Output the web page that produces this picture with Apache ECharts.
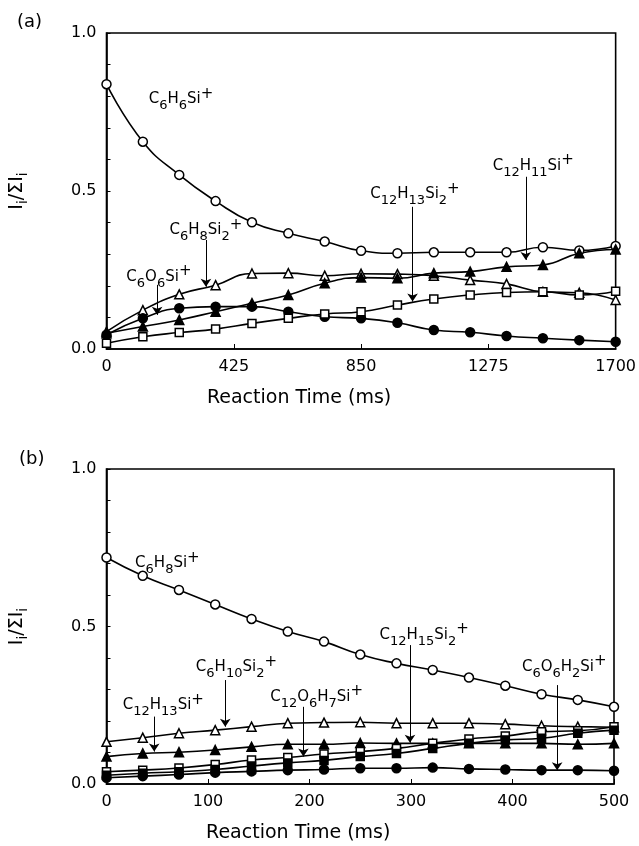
<!DOCTYPE html>
<html>
<head>
<meta charset="utf-8">
<script src="https://cdn.jsdelivr.net/npm/echarts@6/dist/echarts.min.js"></script>
<style>
  html, body { margin: 0; padding: 0; background: #fff; }
  #chart { width: 639px; height: 846px; }
</style>
</head>
<body>
<div id="chart"></div>
<script>
// panel (a) data
const timesA = [0, 121.4, 242.9, 364.3, 485.7, 607.1, 728.6, 850, 971.4, 1092.9, 1214.3, 1335.7, 1457.1, 1578.6, 1700];
const c6h6si = [0.838, 0.656, 0.551, 0.468, 0.401, 0.366, 0.340, 0.311, 0.303, 0.306, 0.306, 0.306, 0.322, 0.312, 0.326];
const c6h8si2 = [0.055, 0.123, 0.173, 0.202, 0.239, 0.240, 0.232, 0.238, 0.237, 0.232, 0.218, 0.206, 0.181, 0.178, 0.155];
const c12h11si = [0.050, 0.071, 0.092, 0.118, 0.145, 0.171, 0.208, 0.226, 0.224, 0.240, 0.245, 0.260, 0.266, 0.303, 0.315];
const c6o6si = [0.045, 0.097, 0.129, 0.134, 0.134, 0.118, 0.102, 0.097, 0.083, 0.060, 0.053, 0.041, 0.034, 0.028, 0.023];
const c12h13si2 = [0.018, 0.039, 0.052, 0.063, 0.081, 0.097, 0.111, 0.118, 0.139, 0.158, 0.171, 0.179, 0.181, 0.171, 0.183];

// panel (b) data
const timesB = [0, 35.7, 71.4, 107.1, 142.9, 178.6, 214.3, 250, 285.7, 321.4, 357.1, 392.9, 428.6, 464.3, 500];
const c6h8si = [0.719, 0.661, 0.616, 0.570, 0.524, 0.484, 0.452, 0.411, 0.383, 0.362, 0.338, 0.312, 0.285, 0.267, 0.245];
const c6h10si2 = [0.134, 0.147, 0.161, 0.171, 0.182, 0.193, 0.195, 0.196, 0.193, 0.193, 0.193, 0.190, 0.185, 0.182, 0.180];
const c12h13si = [0.087, 0.097, 0.101, 0.108, 0.118, 0.126, 0.126, 0.130, 0.129, 0.129, 0.129, 0.129, 0.129, 0.126, 0.129];
const c6o6h2si = [0.020, 0.025, 0.030, 0.036, 0.040, 0.044, 0.046, 0.050, 0.050, 0.052, 0.048, 0.046, 0.044, 0.044, 0.042];
const c12o6h7si = [0.039, 0.044, 0.051, 0.062, 0.076, 0.084, 0.095, 0.103, 0.113, 0.129, 0.143, 0.152, 0.166, 0.169, 0.182];
const c12h15si2 = [0.028, 0.034, 0.039, 0.046, 0.057, 0.067, 0.075, 0.087, 0.097, 0.113, 0.129, 0.140, 0.145, 0.161, 0.171];

const ticksA = [0, 425, 850, 1275, 1700];
const ticksB = [0, 100, 200, 300, 400, 500];

const FONT = 'DejaVu Sans';

// "C_6H_6Si^+" -> rich text with sub/superscripts
const chem = (f) => {
  return f.split(/(_\d+|\^\+)/).filter(Boolean).map(p => {
    if (p[0] === '_') return '{s|' + p.slice(1) + '}';
    if (p[0] === '^') return '{p|' + p.slice(1) + '}';
    return '{n|' + p + '}';
  }).join('');
};

const rich = {
  n: { fontSize: 15, lineHeight: 26, verticalAlign: 'middle', color: '#000', fontFamily: FONT },
  s: { fontSize: 13, verticalAlign: 'bottom', color: '#000', fontFamily: FONT },
  p: { fontSize: 15, verticalAlign: 'top', color: '#000', fontFamily: FONT }
};

const nameRich = {
  n: { fontSize: 19, lineHeight: 26, verticalAlign: 'middle', color: '#000', fontFamily: FONT },
  s: { fontSize: 14, verticalAlign: 'bottom', color: '#000', fontFamily: FONT }
};

const pairs = (xs, ys) => xs.map((x, i) => [x, ys[i]]);

const makeSeries = (name, xs, ys, shape, filled, axis, note) => {
  const s = {
    name: name,
    type: 'line',
    xAxisIndex: axis,
    yAxisIndex: axis,
    data: pairs(xs, ys),
    smooth: 0.5,
    clip: false,
    symbol: shape,
    symbolSize: shape === 'rect' ? 8 : 9,
    showAllSymbol: true,
    lineStyle: { color: '#000', width: 1.6 },
    itemStyle: { color: filled ? '#000' : '#fff', borderColor: '#000', borderWidth: 1.5 },
    animation: false,
    silent: true
  };
  if (note) {
    s.markPoint = {
      symbol: 'circle',
      symbolSize: 0,
      silent: true,
      label: { show: true, position: 'inside', formatter: chem(note.text), rich: rich },
      data: [{ coord: note.at }]
    };
    if (note.arrow) {
      s.markLine = {
        silent: true,
        symbol: ['none', 'arrow'],
        symbolSize: 8,
        label: { show: false },
        lineStyle: { color: '#000', width: 1, type: 'solid' },
        data: [[{ coord: note.arrow[0] }, { coord: note.arrow[1] }]]
      };
    }
  }
  return s;
};

const makeX = (idx, max, interval, ticks) => ({
  type: 'value',
  gridIndex: idx,
  min: 0,
  max: max,
  interval: interval,
  name: 'Reaction Time (ms)',
  nameLocation: 'middle',
  nameGap: 40,
  nameTextStyle: { fontSize: 19, color: '#000', fontFamily: FONT, padding: [0, 124, 0, 0] },
  axisLine: { show: true, lineStyle: { color: '#000', width: 1.6 } },
  axisTick: { show: true, inside: true, length: 5, lineStyle: { color: '#000' } },
  axisLabel: { fontSize: 16, color: '#000', fontFamily: FONT, margin: 10,
    formatter: (v) => ticks.indexOf(v) >= 0 ? String(v) : '' },
  splitLine: { show: false }
});

const makeY = (idx) => ({
  type: 'value',
  gridIndex: idx,
  min: 0,
  max: 1,
  interval: 0.1,
  name: '{n|I}{s|i}{n|/ΣI}{s|i}',
  nameLocation: 'middle',
  nameGap: 76,
  nameTextStyle: { fontSize: 19, fontFamily: FONT, color: '#000', rich: nameRich },
  axisLine: { show: true, lineStyle: { color: '#000', width: 1.6 } },
  axisTick: { show: true, inside: true, length: 4, lineStyle: { color: '#000' } },
  axisLabel: { fontSize: 16, color: '#000', fontFamily: FONT, margin: 10,
    formatter: (v) => (Math.abs(v * 2 - Math.round(v * 2)) < 1e-6 ? v.toFixed(1) : '') },
  splitLine: { show: false }
});

const getOption = () => {
  return {
    backgroundColor: '#fff',
    title: [
      { text: '(a)', left: 12, top: 8, textStyle: { fontSize: 18, fontWeight: 'normal', color: '#000', fontFamily: FONT } },
      { text: '(b)', left: 14, top: 445, textStyle: { fontSize: 18, fontWeight: 'normal', color: '#000', fontFamily: FONT } }
    ],
    grid: [
      { left: 104, top: 33, width: 512, height: 316, show: true, borderColor: '#000', borderWidth: 1.6 },
      { left: 104, top: 469, width: 510, height: 315, show: true, borderColor: '#000', borderWidth: 1.6 }
    ],
    xAxis: [makeX(0, 1700, 425, ticksA), makeX(1, 500, 100, ticksB)],
    yAxis: [makeY(0), makeY(1)],
    series: [
      makeSeries('C6H6Si+', timesA, c6h6si, 'circle', false, 0,
        { text: 'C_6H_6Si^+', at: [249, 0.79] }),
      makeSeries('C6H8Si2+', timesA, c6h8si2, 'triangle', false, 0,
        { text: 'C_6H_8Si_2^+', at: [332, 0.375], arrow: [[332, 0.345], [332, 0.197]] }),
      makeSeries('C12H11Si+', timesA, c12h11si, 'triangle', true, 0,
        { text: 'C_12H_11Si^+', at: [1425, 0.58], arrow: [[1400, 0.545], [1400, 0.282]] }),
      makeSeries('C6O6Si+', timesA, c6o6si, 'circle', true, 0,
        { text: 'C_6O_6Si^+', at: [175, 0.229], arrow: [[169, 0.203], [169, 0.108]] }),
      makeSeries('C12H13Si2+', timesA, c12h13si2, 'rect', false, 0,
        { text: 'C_12H_13Si_2^+', at: [1030, 0.49], arrow: [[1022, 0.45], [1022, 0.15]] }),

      makeSeries('C6H8Si+', timesB, c6h8si, 'circle', false, 1,
        { text: 'C_6H_8Si^+', at: [60, 0.70] }),
      makeSeries('C6H10Si2+', timesB, c6h10si2, 'triangle', false, 1,
        { text: 'C_6H_10Si_2^+', at: [128, 0.37], arrow: [[117, 0.33], [117, 0.182]] }),
      makeSeries('C12H13Si+', timesB, c12h13si, 'triangle', true, 1,
        { text: 'C_12H_13Si^+', at: [56, 0.249], arrow: [[47, 0.214], [47, 0.103]] }),
      makeSeries('C6O6H2Si+', timesB, c6o6h2si, 'circle', true, 1,
        { text: 'C_6O_6H_2Si^+', at: [451, 0.372], arrow: [[444, 0.314], [444, 0.044]] }),
      makeSeries('C12O6H7Si+', timesB, c12o6h7si, 'rect', false, 1,
        { text: 'C_12O_6H_7Si^+', at: [207, 0.277], arrow: [[194, 0.245], [194, 0.087]] }),
      makeSeries('C12H15Si2+', timesB, c12h15si2, 'rect', true, 1,
        { text: 'C_12H_15Si_2^+', at: [313, 0.473], arrow: [[299, 0.441], [299, 0.131]] })
    ]
  };
};

const initChart = () => {
  const chart = echarts.init(document.getElementById('chart'), null, { renderer: 'canvas' });
  chart.setOption(getOption());
};

window.addEventListener('load', () => {
  initChart();
});
</script>
</body>
</html>
